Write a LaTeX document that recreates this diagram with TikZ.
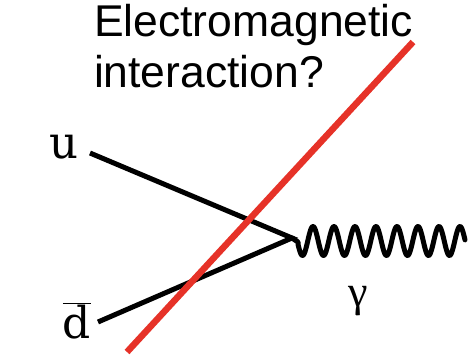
\documentclass[tikz,border=0pt]{standalone}
\usepackage{fontspec}
\setmainfont{DejaVu Serif}
\newfontfamily\titlefont{Liberation Sans}
\newfontfamily\greekfont{Liberation Serif}
\definecolor{cutred}{RGB}{230,50,40}
\begin{document}
\begin{tikzpicture}[x=1pt,y=-1pt,
  fermion/.style={line width=5pt, black, line join=miter},
  photon/.style={line width=5pt, black, line join=round, line cap=round},
  cutline/.style={line width=6.5pt, cutred},
  lbl/.style={inner sep=0pt, outer sep=0pt}]
\useasboundingbox (0,0) rectangle (472,361);
\node[lbl, anchor=base west, align=left, font=\titlefont\fontsize{44.5}{51}\selectfont] (title) at (94,88) {Electromagnetic\\interaction?};
\node[lbl, anchor=base west, font=\fontsize{45}{60}\selectfont] (u) at (49,158) {u};
\node[lbl, anchor=base west, font=\fontsize{44}{60}\selectfont] (dbar) at (63,338) {$\overline{\mbox{d}}$};
\node[lbl, anchor=center, font=\greekfont\fontsize{44}{48}\selectfont] (gamma) at (358,301) {γ};
\coordinate (ustart) at (90,153);
\coordinate (dstart) at (98,322);
\coordinate (v) at (292,238);
\coordinate (r1) at (127,352);
\coordinate (r2) at (413,42);
\draw[fermion] (ustart) -- (v) -- (dstart);
\draw[photon] (v) -- (298,242) -- plot[domain=298:465, samples=240, smooth] (\x,{241-14.5*cos(17.142857*(\x-313))});
\draw[cutline] (r1) -- (r2);
\end{tikzpicture}
\end{document}
